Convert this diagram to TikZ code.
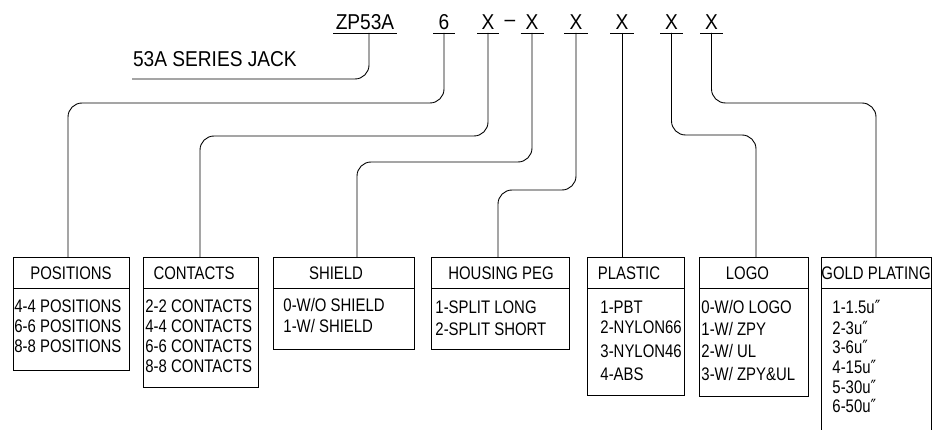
\documentclass[tikz,border=0pt]{standalone}
\usepackage{fontspec}
\newfontfamily\cadfont[FakeStretch=0.82]{Liberation Sans}
\newfontfamily\cadtop[FakeStretch=0.89]{Liberation Sans}
\newfontfamily\primefont[FakeStretch=0.82]{DejaVu Sans}
\usetikzlibrary{calc}
\newcommand{\dqprime}{{\primefont ″}}
\begin{document}
\begin{tikzpicture}[x=1pt,y=-1pt,line width=0.9pt,
  txt/.style={font={\cadfont\fontsize{18.2}{20}\selectfont}, inner sep=0pt, text height=13pt, text depth=0pt},
  row/.style={txt, anchor=west},
  hdr/.style={txt, anchor=center},
  top/.style={font={\cadtop\fontsize{21.5}{24}\selectfont}, inner xsep=0pt, inner ysep=3pt, outer sep=0pt, text height=15.5pt, text depth=0pt, anchor=south},
  box/.style={draw, inner sep=0pt, outer sep=0pt, anchor=north west},
  conn/.style={rounded corners=14pt}]
\useasboundingbox (0,0) rectangle (933,430);
\clip (0,0) rectangle (933,430);

% top code
\node[top, minimum width=64pt] (zp) at (365,33) {ZP53A};
\node[top, minimum width=22pt] (six) at (444,33) {6};
\node[top, minimum width=22pt] (x1) at (488,33) {X};
\node[top] (dash) at (510,30) {–};
\node[top, minimum width=23pt] (x2) at (532,33) {X};
\node[top, minimum width=24pt] (x3) at (576,33) {X};
\node[top, minimum width=24pt] (x4) at (622,33) {X};
\node[top, minimum width=23pt] (x5) at (671.5,33) {X};
\node[top, minimum width=23pt] (x6) at (711.5,33) {X};
\foreach \n in {zp,six,x1,x2,x3,x4,x5,x6}
  \draw (\n.south west) -- (\n.south east);
\node[top, anchor=south west, inner xsep=1pt, inner ysep=12.5pt] (series) at (132,79) {53A SERIES JACK};

% boxes
\node[box, minimum width=116pt, minimum height=113pt] (pos) at (13,257) {};
\node[box, minimum width=115pt, minimum height=130pt] (con) at (143,257) {};
\node[box, minimum width=141pt, minimum height=92pt] (shi) at (273,257) {};
\node[box, minimum width=138pt, minimum height=92pt] (hou) at (431,257) {};
\node[box, minimum width=97pt, minimum height=138pt] (pla) at (587,257) {};
\node[box, minimum width=109pt, minimum height=139pt] (log) at (699,257) {};
\node[box, minimum width=110pt, minimum height=190pt] (gol) at (821,257) {};
\foreach \b in {pos,con,shi,hou,pla,log,gol}
  \draw (\b.west |- 0,288) -- (\b.east |- 0,288);

% connectors
\draw[conn] ($(zp.south)+(4,0)$) |- (series.south west);
\draw[conn] (six.south) |- (68,103) -- (pos.north -| 68,0);
\draw[conn] (x1.south) |- (200,136) -- (con.north -| 200,0);
\draw[conn] (x2.south) |- (357,162) -- (shi.north -| 357,0);
\draw[conn] (x3.south) |- (498,190) -- (hou.north -| 498,0);
\draw[conn] (x4.south) -- (pla.north -| x4.south);
\draw[conn] (x5.south) |- (756,135) -- (log.north -| 756,0);
\draw[conn] (x6.south) |- (876,103) -- (gol.north -| 876,0);

% headers
\node[hdr] (posH) at (71,273) {POSITIONS};
\node[hdr] (conH) at (194,273) {CONTACTS};
\node[hdr] (shiH) at (336,273) {SHIELD};
\node[hdr] (houH) at (501,273) {HOUSING PEG};
\node[hdr] (plaH) at (629,273) {PLASTIC};
\node[hdr] (logH) at (747.5,273) {LOGO};
\node[hdr] (golH) at (876,273) {GOLD PLATING};

% rows
\node[row] (pos1) at (14,306) {4-4 POSITIONS};
\node[row] (pos2) at (14,326) {6-6 POSITIONS};
\node[row] (pos3) at (14,346) {8-8 POSITIONS};

\node[row] (con1) at (145,306) {2-2 CONTACTS};
\node[row] (con2) at (145,325.5) {4-4 CONTACTS};
\node[row] (con3) at (145,345.5) {6-6 CONTACTS};
\node[row] (con4) at (145,366) {8-8 CONTACTS};

\node[row] (shi1) at (283,304.5) {0-W/O SHIELD};
\node[row] (shi2) at (283,326) {1-W/ SHIELD};

\node[row] (hou1) at (435,307) {1-SPLIT LONG};
\node[row] (hou2) at (435,329) {2-SPLIT SHORT};

\node[row] (pla1) at (600,307) {1-PBT};
\node[row] (pla2) at (600,327) {2-NYLON66};
\node[row] (pla3) at (600,351) {3-NYLON46};
\node[row] (pla4) at (600,374) {4-ABS};

\node[row] (log1) at (701,307) {0-W/O LOGO};
\node[row] (log2) at (701,329) {1-W/ ZPY};
\node[row] (log3) at (701,351) {2-W/ UL};
\node[row] (log4) at (701,374) {3-W/ ZPY\&UL};

\node[row] (gol1) at (832,307) {1-1.5u\dqprime};
\node[row] (gol2) at (832,328) {2-3u\dqprime};
\node[row] (gol3) at (832,347) {3-6u\dqprime};
\node[row] (gol4) at (832,367) {4-15u\dqprime};
\node[row] (gol5) at (832,387) {5-30u\dqprime};
\node[row] (gol6) at (832,406) {6-50u\dqprime};
\end{tikzpicture}
\end{document}
